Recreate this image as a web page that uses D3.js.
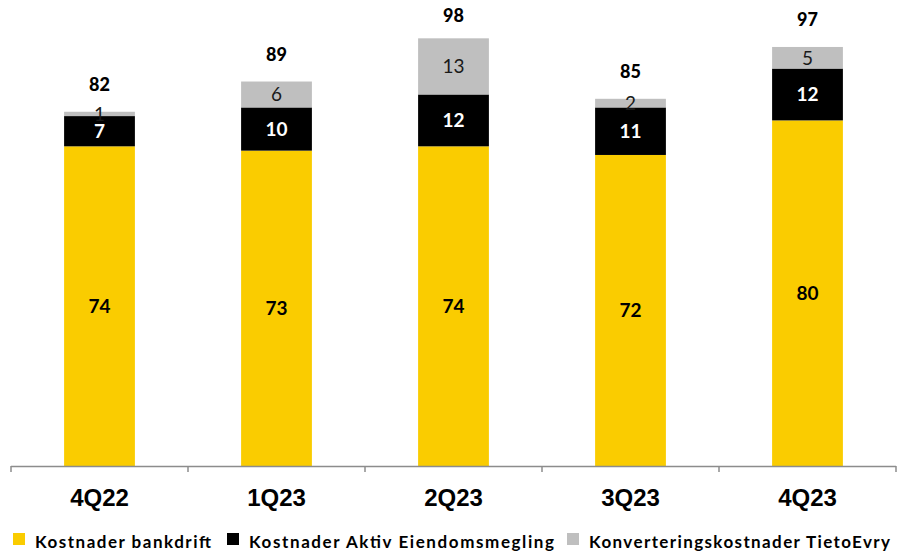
<!DOCTYPE html>
<html>
<head>
<meta charset="utf-8">
<script src="https://cdn.jsdelivr.net/npm/d3@7"></script>
<style>
  body { margin: 0; background: #fff; }
</style>
</head>
<body>
<div id="chart"></div>
<script>
// kostnader per kvartal (mill. kr)
var categories = ["4Q22", "1Q23", "2Q23", "3Q23", "4Q23"];
var series = ["Kostnader bankdrift", "Kostnader Aktiv Eiendomsmegling", "Konverteringskostnader TietoEvry"];
var data_bankdrift = [74, 73, 74, 72, 80];
var data_aktiv = [7, 10, 12, 11, 12];
var data_tieto = [1, 6, 13, 2, 5];
var totals = [82, 89, 98, 85, 97];

var color = ["#FACC00", "#000000", "#BFBFBF"];
var labelColor = ["#000000", "#ffffff", "#1a1a1a"];

var W = 897, H = 553;
var svg = d3.select("#chart").append("svg")
  .attr("width", W)
  .attr("height", H);

var x = d3.scaleBand().domain(categories).range([11, 896]).padding(0);
var y = d3.scaleLinear().domain([0, 100]).range([466, 34]);
var barW = x.bandwidth() * 0.4;

var rows = categories.map(function(c, i) {
  return { cat: c, bankdrift: data_bankdrift[i], aktiv: data_aktiv[i], tieto: data_tieto[i] };
});
var stack = d3.stack().keys(["bankdrift", "aktiv", "tieto"])(rows);

var layers = svg.selectAll("g.layer")
  .data(stack)
  .enter().append("g")
  .attr("class", "layer");

layers.each(function(layer, k) {
  var g = d3.select(this);
  g.selectAll("rect")
    .data(layer)
    .enter().append("rect")
    .attr("x", function(d) { return x(d.data.cat) + (x.bandwidth() - barW) / 2; })
    .attr("y", function(d) { return y(d[1]); })
    .attr("width", barW)
    .attr("height", function(d) { return y(d[0]) - y(d[1]); })
    .attr("fill", color[k]);

  g.selectAll("text")
    .data(layer)
    .enter().append("text")
    .attr("x", function(d) { return x(d.data.cat) + x.bandwidth() / 2; })
    .attr("y", function(d) { return (y(d[0]) + y(d[1])) / 2; })
    .attr("dy", "0.36em")
    .attr("text-anchor", "middle")
    .attr("font-family", "Lato, sans-serif")
    .attr("font-size", "19px")
    .attr("font-weight", k == 2 ? "normal" : "bold")
    .attr("fill", labelColor[k])
    .text(function(d) { return d[1] - d[0]; });
});

// sum labels
svg.selectAll("text.total")
  .data(totals)
  .enter().append("text")
  .attr("class", "total")
  .attr("x", function(d, i) { return x(categories[i]) + x.bandwidth() / 2; })
  .attr("y", function(d) { return y(d) - 21; })
  .attr("text-anchor", "middle")
  .attr("font-family", "Lato, sans-serif")
  .attr("font-size", "18px")
  .attr("font-weight", "900")
  .attr("fill", "#000")
  .text(function(d) { return d; });

// x axis: line with ticks at category boundaries
svg.append("line")
  .attr("x1", x.range()[0]).attr("x2", x.range()[1])
  .attr("y1", y(0) + 0.5).attr("y2", y(0) + 0.5)
  .style("stroke", "#8c8c8c")
  .style("stroke-width", 1.5);

var edges = categories.map(function(c) { return x(c); }).concat([x.range()[1]]);
svg.selectAll("line.tick")
  .data(edges)
  .enter().append("line")
  .attr("class", "tick")
  .attr("x1", function(d) { return d; }).attr("x2", function(d) { return d; })
  .attr("y1", y(0)).attr("y2", y(0) + 6)
  .style("stroke", "#8c8c8c")
  .style("stroke-width", 1.5);

svg.selectAll("text.cat")
  .data(categories)
  .enter().append("text")
  .attr("class", "cat")
  .attr("x", function(d) { return x(d) + x.bandwidth() / 2; })
  .attr("y", 506)
  .attr("text-anchor", "middle")
  .attr("font-family", "'Liberation Sans', Arial, sans-serif")
  .attr("font-size", "24px")
  .attr("font-weight", "bold")
  .attr("fill", "#000")
  .text(function(d) { return d; });

// legend
var legendX = [13, 227, 567];
var legendW = [176, 305, 301];
for (var i = 0; i < series.length; i++) {
  svg.append("rect")
    .attr("x", legendX[i])
    .attr("y", 533)
    .attr("width", 12)
    .attr("height", 12)
    .attr("fill", color[i]);

  svg.append("text")
    .attr("x", legendX[i] + 22)
    .attr("y", 548)
    .text(series[i])
    .attr("font-family", "Lato, sans-serif")
    .attr("font-size", "17px")
    .attr("font-weight", "bold")
    .attr("textLength", legendW[i])
    .attr("lengthAdjust", "spacing")
    .attr("fill", "#000");
}
</script>
</body>
</html>
